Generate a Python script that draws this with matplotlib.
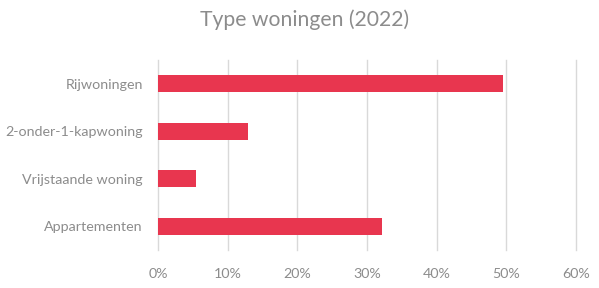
import matplotlib.pyplot as plt
import numpy as np

categories = ['Rijwoningen', '2-onder-1-kapwoning', 'Vrijstaande woning', 'Appartementen']
shares = np.array([49.5, 12.9, 5.5, 32.1])
xticks = [0, 10, 20, 30, 40, 50, 60]
xticklabels = ['0%', '10%', '20%', '30%', '40%', '50%', '60%']

plt.rcParams['font.family'] = ['Lato', 'DejaVu Sans']
grey = '#8c8c8c'

fig = plt.figure(figsize=(5.99, 2.88), dpi=100)
ax = fig.add_axes([158 / 599, 38 / 288, 418 / 599, 190 / 288])

ypos = np.arange(len(categories))
ax.barh(ypos, shares, height=0.35, color='#e8364f', zorder=3)
ax.set_ylim(3.5, -0.5)
ax.set_xlim(0, 60)
ax.set_yticks(ypos)
ax.set_yticklabels(categories, color=grey, fontsize=10.3)
ax.set_xticks(xticks)
ax.set_xticklabels(xticklabels, color=grey, fontsize=10.3)
ax.tick_params(length=0)
ax.tick_params(axis='x', pad=13)
ax.tick_params(axis='y', pad=11)
ax.grid(axis='x', color='#d9d9d9', linewidth=1, zorder=0)
for line in ax.get_xgridlines():
    line.set_clip_on(False)
for s in ax.spines.values():
    s.set_visible(False)

fig.text(305 / 599, 0.93, 'Type woningen (2022)', ha='center', va='center', fontsize=15.2, color=grey)

plt.savefig('out.png', dpi=100)
